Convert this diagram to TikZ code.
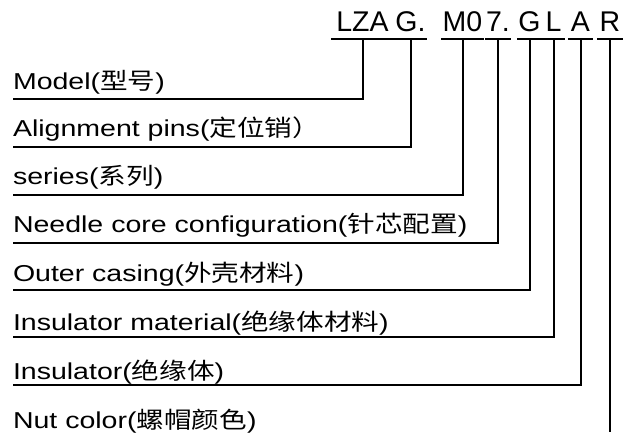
\documentclass[tikz,border=0pt]{standalone}
\usepackage{fontspec}
\newfontfamily\lab{Liberation Sans}[FakeStretch=1.24]
\newfontfamily\labcjk{Noto Sans CJK SC}[FakeStretch=1.2]
\newfontfamily\codefont{Liberation Sans}
\begin{document}
\begin{tikzpicture}[x=1pt,y=-1pt,line width=2pt,
  codebox/.style={font=\codefont\fontsize{28.5}{28.5}\selectfont, inner xsep=0pt, inner ysep=6.5pt, text depth=0pt, anchor=base},
  labeltext/.style={font=\lab\fontsize{23}{23}\selectfont, inner sep=0pt, anchor=base west},
  lead/.style={line width=2pt}]
\useasboundingbox (0,0) rectangle (630,432);
% code letters
\node[codebox, minimum width=61pt] (c1) at (362.5,31) {LZA};
\node[codebox, minimum width=23pt] (c2) at (410.5,31) {G.};
\node[codebox, minimum width=41pt] (c3) at (462.5,31) {M0};
\node[codebox, minimum width=22pt] (c4) at (498,31) {7.};
\node[codebox, minimum width=23pt] (c5) at (529.5,31) {G};
\node[codebox, minimum width=21pt] (c6) at (553.5,31) {L};
\node[codebox, minimum width=23pt] (c7) at (580.5,31) {A};
\node[codebox, minimum width=24pt] (c8) at (610,31) {R};
% labels
\node[labeltext] (t1) at (12,89.5) {Model({\labcjk 型号})};
\node[labeltext] (t2) at (12,136.5) {Alignment pins({\labcjk 定位销）}};
\node[labeltext] (t3) at (12,184.5) {series({\labcjk 系列})};
\node[labeltext] (t4) at (12,232.5) {Needle core configuration({\labcjk 针芯配置})};
\node[labeltext] (t5) at (12,281.5) {Outer casing({\labcjk 外壳材料})};
\node[labeltext] (t6) at (12,330) {Insulator material({\labcjk 绝缘体材料})};
\node[labeltext] (t7) at (12,379.5) {Insulator({\labcjk 绝缘体})};
\node[labeltext] (t8) at (12,428) {Nut color({\labcjk 螺帽颜色})};
% line ends
\coordinate (e1) at (13,99.3);
\coordinate (e2) at (13,147);
\coordinate (e3) at (13,194.8);
\coordinate (e4) at (13,242.5);
\coordinate (e5) at (13,290);
\coordinate (e6) at (13,337.3);
\coordinate (e7) at (13,385);
\coordinate (e8) at (610,432);
% underlines
\foreach \c in {c1,c2,c3,c4,c5,c6,c7,c8}
  \draw[lead] (\c.south west) -- (\c.south east);
% leaders
\draw[lead] (c1.south) |- (e1);
\draw[lead] (c2.south) |- (e2);
\draw[lead] (c3.south) |- (e3);
\draw[lead] (c4.south) |- (e4);
\draw[lead] (c5.south) |- (e5);
\draw[lead] (c6.south) |- (e6);
\draw[lead] (c7.south) |- (e7);
\draw[lead] (c8.south) -- (e8);
\end{tikzpicture}
\end{document}
